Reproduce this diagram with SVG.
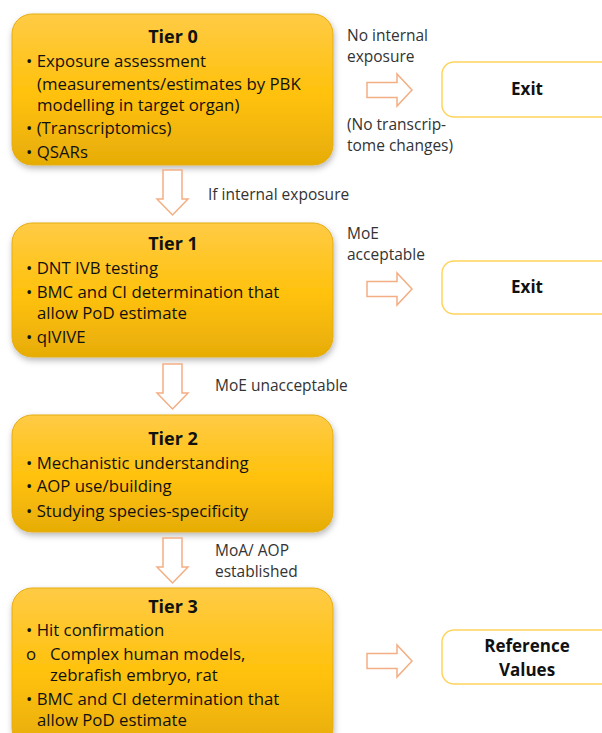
<svg xmlns="http://www.w3.org/2000/svg" width="602" height="733" viewBox="0 0 602 733">
  <defs>
    <linearGradient id="gold" x1="0" y1="0" x2="0" y2="1">
      <stop offset="0" stop-color="#FFCB45"/>
      <stop offset="0.55" stop-color="#FFC10A"/>
      <stop offset="1" stop-color="#E6AC06"/>
    </linearGradient>
    <filter id="shadow" x="-10%" y="-10%" width="120%" height="130%">
      <feDropShadow dx="1" dy="3" stdDeviation="3" flood-color="#000" flood-opacity="0.28"/>
    </filter>
    <!-- hollow block arrows, drawn once and placed -->
    <path id="arrowRight" d="M0,-7.5 H30 V-16 L45,0 L30,16 V7.5 H0 Z"/>
    <path id="arrowDown" d="M-9.5,0 H9.5 V29 H15.5 L0,45 L-15.5,29 H-9.5 Z"/>
  </defs>
  <style>
    .tier { fill: url(#gold); stroke: #E5AC12; stroke-width: 1; filter: url(#shadow); }
    .out { fill: #fff; stroke: #FFD45C; stroke-width: 1.5; }
    .arrow { fill: #fff; stroke: #F3AE83; stroke-width: 1.5; }
    .title { font-family: "Open Sans", "Noto Sans", sans-serif; font-weight: 700; font-size: 18px; fill: #111; text-anchor: middle; }
    .item { font-family: "Open Sans", "Noto Sans", sans-serif; font-size: 16.8px; fill: #111; }
    .label { font-family: "Open Sans", "Noto Sans", sans-serif; font-size: 15.5px; fill: #333; }
    .outtext { font-family: "Open Sans", "Noto Sans", sans-serif; font-weight: 700; font-size: 17px; fill: #111; text-anchor: middle; }
  </style>

  <rect width="602" height="733" fill="#fff"/>

  <!-- Tier boxes -->
  <g id="tier0">
    <rect class="tier" x="12" y="14" width="321" height="151" rx="20"/>
    <text class="title" x="173" y="43">Tier 0</text>
    <text class="item" x="26" y="67">• Exposure assessment</text>
    <text class="item" x="37" y="90">(measurements/estimates by PBK</text>
    <text class="item" x="37" y="111">modelling in target organ)</text>
    <text class="item" x="26" y="134">• (Transcriptomics)</text>
    <text class="item" x="26" y="158">• QSARs</text>
  </g>

  <g id="tier1">
    <rect class="tier" x="12" y="223" width="321" height="134" rx="20"/>
    <text class="title" x="173" y="250">Tier 1</text>
    <text class="item" x="26" y="274">• DNT IVB testing</text>
    <text class="item" x="26" y="298">• BMC and CI determination that</text>
    <text class="item" x="37" y="319">allow PoD estimate</text>
    <text class="item" x="26" y="343">• qIVIVE</text>
  </g>

  <g id="tier2">
    <rect class="tier" x="12" y="415" width="321" height="117" rx="20"/>
    <text class="title" x="173" y="445">Tier 2</text>
    <text class="item" x="26" y="469">• Mechanistic understanding</text>
    <text class="item" x="26" y="492">• AOP use/building</text>
    <text class="item" x="26" y="517">• Studying species-specificity</text>
  </g>

  <g id="tier3">
    <rect class="tier" x="12" y="588" width="321" height="160" rx="20"/>
    <text class="title" x="173" y="613">Tier 3</text>
    <text class="item" x="26" y="636">• Hit confirmation</text>
    <text class="item" x="26" y="660">o</text>
    <text class="item" x="50" y="660">Complex human models,</text>
    <text class="item" x="50" y="681">zebrafish embryo, rat</text>
    <text class="item" x="26" y="705">• BMC and CI determination that</text>
    <text class="item" x="37" y="726">allow PoD estimate</text>
  </g>

  <!-- Outcome boxes -->
  <g id="exit0">
    <rect class="out" x="442" y="62" width="175" height="55" rx="12"/>
    <text class="outtext" x="527" y="95">Exit</text>
  </g>
  <g id="exit1">
    <rect class="out" x="442" y="261" width="175" height="53" rx="12"/>
    <text class="outtext" x="527" y="293">Exit</text>
  </g>
  <g id="reference-values">
    <rect class="out" x="442" y="630" width="175" height="54" rx="12"/>
    <text class="outtext" x="527" y="652">Reference</text>
    <text class="outtext" x="527" y="676">Values</text>
  </g>

  <!-- Connectors -->
  <g id="connectors">
    <use href="#arrowRight" class="arrow" x="367" y="90"/>
    <use href="#arrowRight" class="arrow" x="367" y="289"/>
    <use href="#arrowRight" class="arrow" x="367" y="661"/>
    <use href="#arrowDown" class="arrow" x="172.5" y="170"/>
    <use href="#arrowDown" class="arrow" x="172.5" y="364"/>
    <use href="#arrowDown" class="arrow" x="172.5" y="538"/>

    <text class="label" x="347" y="41">No internal</text>
    <text class="label" x="347" y="62">exposure</text>
    <text class="label" x="347" y="130">(No transcrip-</text>
    <text class="label" x="347" y="151">tome changes)</text>
    <text class="label" x="208" y="200">If internal exposure</text>
    <text class="label" x="347" y="239">MoE</text>
    <text class="label" x="347" y="260">acceptable</text>
    <text class="label" x="215" y="391">MoE unacceptable</text>
    <text class="label" x="215" y="556">MoA/ AOP</text>
    <text class="label" x="215" y="577">established</text>
  </g>
</svg>
